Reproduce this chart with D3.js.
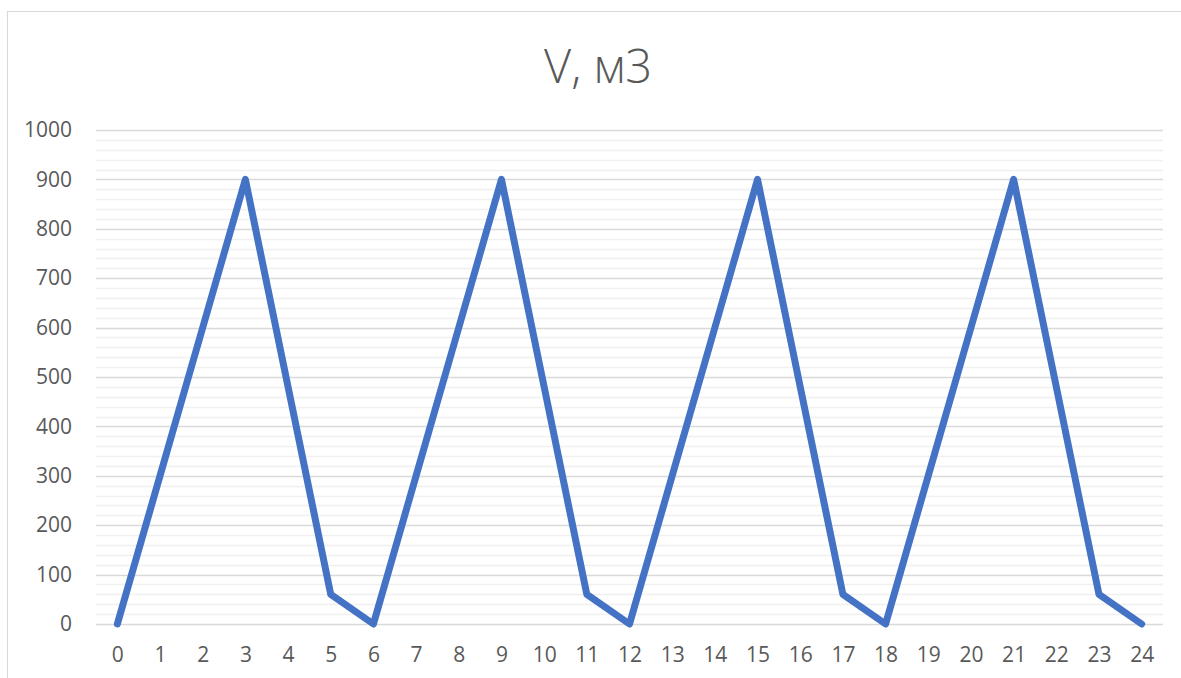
<!DOCTYPE html>
<html>
<head>
<meta charset="utf-8">
<script src="https://cdn.jsdelivr.net/npm/d3@7"></script>
<style>
  html, body { margin: 0; padding: 0; background: #fff; }
  svg { display: block; }
  text { font-family: "Open Sans", "Noto Sans", sans-serif; fill: #595959; }
  .tick text { font-size: 21px; }
</style>
</head>
<body>
<script>
// Hourly tank volume, m3
const hours = d3.range(0, 25).map(String);
const volume = [0, 300, 600, 900, 480, 60, 0, 300, 600, 900, 480, 60, 0,
                300, 600, 900, 480, 60, 0, 300, 600, 900, 480, 60, 0];
const yTicks = [0, 100, 200, 300, 400, 500, 600, 700, 800, 900, 1000];
const yMinorTicks = d3.range(0, 1001, 20);
const title = "V, м3";

const W = 1181, H = 678;
const plot = { left: 96, right: 1163, top: 130, bottom: 624 };

const svg = d3.select("body").append("svg").attr("width", W).attr("height", H);

// chart frame
svg.append("rect")
  .attr("x", 7.5).attr("y", 11.5)
  .attr("width", W).attr("height", H)
  .attr("fill", "none").attr("stroke", "#d9d9d9").attr("stroke-width", 1);

const x = d3.scalePoint().domain(hours).range([plot.left, plot.right]).padding(0.5);
const y = d3.scaleLinear().domain([0, 1000]).range([plot.bottom, plot.top]);

// minor gridlines
svg.append("g").selectAll("line")
  .data(yMinorTicks.filter(v => v % 100 !== 0))
  .join("line")
  .attr("x1", plot.left).attr("x2", plot.right)
  .attr("y1", d => Math.round(y(d)) + 0.5).attr("y2", d => Math.round(y(d)) + 0.5)
  .attr("stroke", "#f0f0f0").attr("stroke-width", 1.5);

// major gridlines
svg.append("g").selectAll("line")
  .data(yTicks)
  .join("line")
  .attr("x1", plot.left).attr("x2", plot.right)
  .attr("y1", d => Math.round(y(d)) + 0.5).attr("y2", d => Math.round(y(d)) + 0.5)
  .attr("stroke", "#d9d9d9").attr("stroke-width", 1.5);

// y axis labels
const yAxis = d3.axisLeft(y).tickValues(yTicks).tickFormat(d3.format("d")).tickSize(0).tickPadding(24);
svg.append("g").attr("transform", `translate(${plot.left},0)`).call(yAxis)
  .attr("font-size", null).attr("font-family", null)
  .call(g => g.select(".domain").remove());

// x axis labels
const xAxis = d3.axisBottom(x).tickSize(0).tickPadding(23);
svg.append("g").attr("transform", `translate(0,${plot.bottom})`).call(xAxis)
  .attr("font-size", null).attr("font-family", null)
  .call(g => g.select(".domain").remove());

// series line
const line = d3.line().x((d, i) => x(hours[i])).y(d => y(d));
svg.append("path")
  .datum(volume)
  .attr("d", line)
  .attr("fill", "none")
  .attr("stroke", "#4472c4")
  .attr("stroke-width", 7)
  .attr("stroke-linejoin", "round")
  .attr("stroke-linecap", "round");

// title
svg.append("text")
  .attr("x", 598).attr("y", 83)
  .attr("text-anchor", "middle")
  .style("font-size", "47px")
  .style("font-weight", 300)
  .text(title);
</script>
</body>
</html>
